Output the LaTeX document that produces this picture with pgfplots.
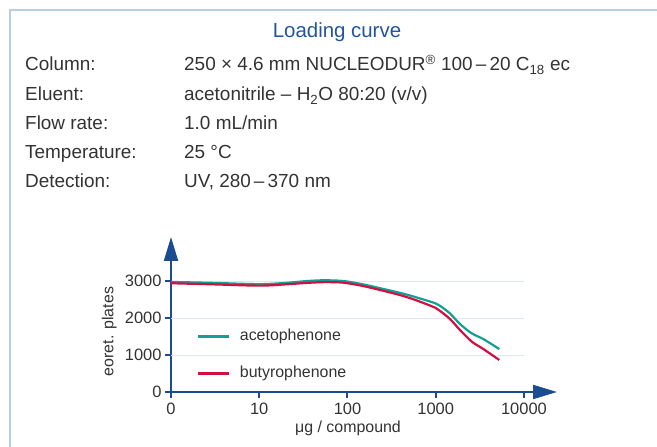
\documentclass[border=0pt]{standalone}
\usepackage{fontspec}
\setmainfont{Liberation Sans}
\usepackage{pgfplots}
\pgfplotsset{compat=1.18}
\usetikzlibrary{arrows.meta}
\definecolor{axisblue}{HTML}{1A4C92}
\definecolor{titleblue}{HTML}{23559F}
\definecolor{framecol}{HTML}{BCCCE6}
\definecolor{gridcol}{HTML}{E0E6F2}
\definecolor{textgray}{HTML}{333333}
\definecolor{teal1}{HTML}{12A096}
\definecolor{red1}{HTML}{CF1040}
\begin{document}
\begin{tikzpicture}[x=1bp,y=1bp]
\path[use as bounding box] (0,0) rectangle (657,447);
\draw[framecol, line width=1.5bp] (10,0) -- (10,437) -- (657,437);
\node[anchor=base, text=titleblue, font=\fontsize{20.5}{24}\selectfont, inner sep=0pt] at (337,409) {Loading curve};
\begin{scope}[every node/.style={anchor=base west, inner sep=0pt, text=textgray, font=\fontsize{19}{22}\selectfont}]
\node at (25,376) {Column:};
\node at (184,376) {250 × 4.6 mm NUCLEODUR\textsuperscript{®} 100\,–\,20 C\textsubscript{18} ec};
\node at (25,346) {Eluent:};
\node at (184,346) {acetonitrile – H\textsubscript{2}O 80:20 (v/v)};
\node at (25,317) {Flow rate:};
\node at (184,317) {1.0 mL/min};
\node at (25,288) {Temperature:};
\node at (184,288) {25 °C};
\node at (25,259) {Detection:};
\node at (184,259) {UV, 280\,–\,370 nm};
\end{scope}
\begin{axis}[
  at={(171bp,55bp)}, anchor=south west, scale only axis,
  width=386bp, height=155bp,
  xmode=log, xmin=1, xmax=23700, ymin=0, ymax=4190,
  axis lines=left,
  axis line style={draw=axisblue, line width=2bp, -{Triangle[width=14bp,length=24bp]}},
  xtick={1,10,100,1000,10000}, xticklabels={0,10,100,1000,10000},
  ytick={0,1000,2000,3000}, yticklabels={0,1000,2000,3000},
  xminorticks=false, yminorticks=false,
  tick align=outside, major tick length=6bp,
  tick style={draw=axisblue, line width=2bp},
  ticklabel style={font=\fontsize{16.5}{16}\selectfont, text=textgray},
  xticklabel style={yshift=-2bp},
  /pgf/number format/assume math mode=true,
  clip=false,
  legend style={draw=none, fill=none, at={(rel axis cs:0.065,0.41)}, anchor=north west,
    font=\fontsize{16}{16}\selectfont, text=textgray, row sep=24bp, inner sep=0pt,
    nodes={inner sep=0pt, anchor=base west}},
  legend cell align=left,
  legend image code/.code={\draw[#1, line width=3bp] (0bp,0.35em) -- (31bp,0.35em); \path (41bp,0bp);},
]
\addplot[gridcol, line width=1bp, forget plot] coordinates {(1,1000) (10000,1000)};
\addplot[gridcol, line width=1bp, forget plot] coordinates {(1,2000) (10000,2000)};
\addplot[gridcol, line width=1bp, forget plot] coordinates {(1,3000) (10000,3000)};
\addplot[teal1, line width=2.2bp, smooth, tension=0.5] coordinates {
(1,2975) (3,2950) (10,2915) (20,2950) (35,3000) (55,3020) (90,3000) (150,2910)
(250,2790) (395,2680) (600,2560) (985,2400) (1120,2330) (1457,2120) (1890,1834)
(2570,1583) (3470,1430) (5260,1160)};
\addlegendentry{acetophenone}
\addplot[red1, line width=2.2bp, smooth, tension=0.5] coordinates {
(1,2940) (3,2910) (10,2875) (20,2910) (35,2950) (55,2970) (90,2955) (150,2865)
(250,2740) (395,2620) (600,2480) (985,2280) (1120,2193) (1457,1969) (1890,1673)
(2570,1359) (3470,1161) (5260,865)};
\addlegendentry{butyrophenone}
\node[rotate=90, text=textgray, font=\fontsize{16}{16}\selectfont, inner sep=0pt] at (rel axis cs:-0.160,0.39) {eoret. plates};
\node[text=textgray, font=\fontsize{16}{16}\selectfont, inner sep=0pt] at (rel axis cs:0.4585,-0.232) {μg / compound};
\end{axis}
\end{tikzpicture}
\end{document}
